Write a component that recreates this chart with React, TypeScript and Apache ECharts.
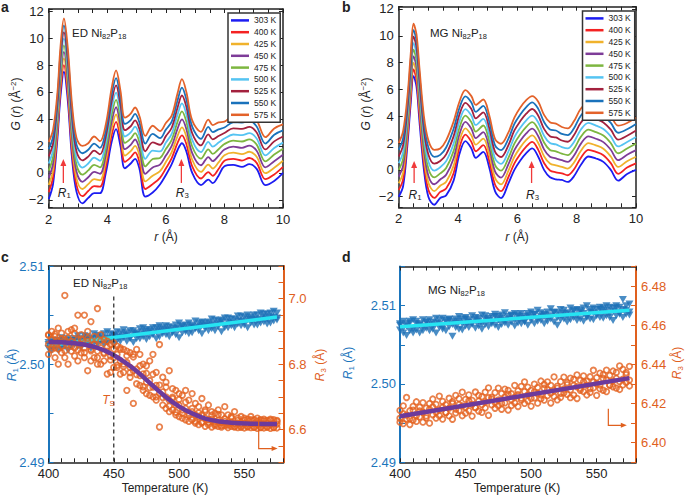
import React, { useEffect, useRef } from "react";
import * as echarts from "echarts";

const FONT = "'Liberation Sans', Arial, Helvetica, sans-serif";
const DARK = "#222222";
const AX_BLUE = "#1b75bc";
const AX_ORANGE = "#e0601e";

// ---------- panels a & b : G(r) curves ----------
const tempLabels = ["303 K", "400 K", "425 K", "450 K", "475 K", "500 K", "525 K", "550 K", "575 K"];
const curveColors = ["#1c1cf2", "#f42222", "#f0b22c", "#7e3c98", "#7db640", "#55c4f2", "#a3213e", "#1a72bb", "#e3622a"];

const rEd = [2.0, 2.15, 2.3, 2.4, 2.52, 2.65, 2.8, 2.95, 3.15, 3.35, 3.55, 3.75, 3.95, 4.15, 4.3, 4.45, 4.6, 4.8, 4.95, 5.1, 5.3, 5.55, 5.8, 6.0, 6.2, 6.4, 6.55, 6.7, 6.9, 7.2, 7.45, 7.6, 7.8, 8.0, 8.3, 8.6, 8.85, 9.1, 9.4, 9.7, 10.0];
const ed303 = [-1.95, -0.8, 2.6, 5.6, 7.5, 5.4, 1.0, -1.4, -2.25, -1.85, -1.5, -1.5, 0.0, 2.3, 3.25, 2.0, 0.35, 0.7, 1.05, 0.3, -1.75, -1.45, -0.85, -0.15, 0.65, 1.7, 2.2, 1.6, 0.0, -0.9, -0.5, -0.75, -0.2, 0.5, 0.6, 0.45, 0.65, 0.3, -0.9, -0.6, 0.0];
const ed400 = [-1.42, -0.3, 3.03, 6.06, 7.99, 5.89, 1.5, -0.9, -1.72, -1.34, -0.98, -1.02, 0.45, 2.8, 3.79, 2.51, 0.82, 1.16, 1.53, 0.79, -1.19, -0.83, -0.36, 0.33, 1.1, 2.23, 2.79, 2.15, 0.49, -0.41, 0.06, -0.21, 0.29, 0.91, 1.05, 0.92, 1.11, 0.75, -0.46, -0.11, 0.45];
const ed425 = [-0.89, 0.2, 3.45, 6.52, 8.48, 6.38, 2.0, -0.4, -1.19, -0.83, -0.45, -0.54, 0.9, 3.3, 4.33, 3.02, 1.29, 1.62, 2.0, 1.28, -0.63, -0.21, 0.13, 0.81, 1.55, 2.75, 3.38, 2.7, 0.98, 0.08, 0.62, 0.33, 0.78, 1.32, 1.5, 1.39, 1.57, 1.2, -0.02, 0.38, 0.9];
const ed450 = [-0.36, 0.7, 3.88, 6.98, 8.97, 6.87, 2.5, 0.1, -0.66, -0.32, 0.08, -0.06, 1.35, 3.8, 4.87, 3.53, 1.76, 2.08, 2.48, 1.77, -0.07, 0.41, 0.62, 1.29, 2.0, 3.28, 3.97, 3.25, 1.47, 0.57, 1.18, 0.87, 1.27, 1.73, 1.95, 1.86, 2.03, 1.65, 0.42, 0.87, 1.35];
const ed475 = [0.17, 1.2, 4.3, 7.44, 9.46, 7.36, 3.0, 0.6, -0.13, 0.19, 0.6, 0.42, 1.8, 4.3, 5.41, 4.04, 2.23, 2.54, 2.95, 2.26, 0.49, 1.03, 1.11, 1.77, 2.45, 3.8, 4.56, 3.8, 1.96, 1.06, 1.74, 1.41, 1.76, 2.14, 2.4, 2.33, 2.49, 2.1, 0.86, 1.36, 1.8];
const ed500 = [0.7, 1.7, 4.73, 7.9, 9.95, 7.85, 3.5, 1.1, 0.4, 0.7, 1.13, 0.9, 2.25, 4.8, 5.95, 4.55, 2.7, 3.0, 3.43, 2.75, 1.05, 1.65, 1.6, 2.25, 2.9, 4.33, 5.15, 4.35, 2.45, 1.55, 2.3, 1.95, 2.25, 2.55, 2.85, 2.8, 2.95, 2.55, 1.3, 1.85, 2.25];
const ed525 = [1.23, 2.2, 5.15, 8.36, 10.44, 8.34, 4.0, 1.6, 0.93, 1.21, 1.65, 1.38, 2.7, 5.3, 6.49, 5.06, 3.17, 3.46, 3.9, 3.24, 1.61, 2.27, 2.09, 2.73, 3.35, 4.85, 5.74, 4.9, 2.94, 2.04, 2.86, 2.49, 2.74, 2.96, 3.3, 3.27, 3.41, 3.0, 1.74, 2.34, 2.7];
const ed550 = [1.76, 2.7, 5.58, 8.82, 10.93, 8.83, 4.5, 2.1, 1.46, 1.72, 2.18, 1.86, 3.15, 5.8, 7.03, 5.57, 3.64, 3.92, 4.38, 3.73, 2.17, 2.89, 2.58, 3.21, 3.8, 5.38, 6.33, 5.45, 3.43, 2.53, 3.42, 3.03, 3.23, 3.37, 3.75, 3.74, 3.87, 3.45, 2.18, 2.83, 3.15];
const ed575 = [2.3, 3.2, 6.0, 9.3, 11.45, 9.3, 5.0, 2.6, 2.0, 2.2, 2.7, 2.35, 3.6, 6.3, 7.6, 6.1, 4.1, 4.4, 4.85, 4.2, 2.75, 3.5, 3.1, 3.7, 4.25, 5.9, 6.95, 6.0, 3.9, 3.05, 3.95, 3.55, 3.75, 3.8, 4.2, 4.2, 4.3, 3.9, 2.65, 3.3, 3.6];

const rMg = [2.0, 2.15, 2.3, 2.4, 2.5, 2.6, 2.7, 2.85, 3.0, 3.2, 3.4, 3.6, 3.85, 4.05, 4.25, 4.45, 4.6, 4.85, 5.05, 5.25, 5.45, 5.7, 5.9, 6.1, 6.3, 6.5, 6.7, 6.9, 7.1, 7.3, 7.5, 7.7, 7.9, 8.15, 8.4, 8.65, 8.9, 9.15, 9.4, 9.7, 10.0];
const mg303 = [-2.0, -1.2, 2.0, 4.8, 7.0, 6.2, 3.6, 0.0, -2.0, -2.6, -2.1, -1.9, -0.8, 1.2, 2.15, 1.6, 0.9, 1.35, 0.2, -1.6, -2.1, -1.0, 0.0, 0.7, 1.25, 1.6, 1.0, 0.0, -0.55, -0.7, -0.75, -0.9, -0.5, 0.4, 1.0, 0.85, 0.6, 0.0, -0.8, -0.3, 0.0];
const mg400 = [-1.5, -0.69, 2.45, 5.26, 7.49, 6.69, 4.1, 0.5, -1.48, -2.09, -1.64, -1.39, -0.25, 1.69, 2.63, 2.09, 1.39, 1.84, 0.69, -1.11, -1.59, -0.53, 0.49, 1.19, 1.74, 2.09, 1.51, 0.51, -0.04, -0.18, -0.26, -0.4, 0.01, 0.93, 1.5, 1.34, 1.09, 0.5, -0.29, 0.18, 0.49];
const mg425 = [-1.0, -0.18, 2.9, 5.72, 7.98, 7.18, 4.6, 1.0, -0.95, -1.58, -1.18, -0.88, 0.3, 2.18, 3.1, 2.58, 1.88, 2.33, 1.18, -0.62, -1.08, -0.05, 0.98, 1.68, 2.23, 2.58, 2.02, 1.02, 0.47, 0.34, 0.23, 0.1, 0.52, 1.45, 2.0, 1.83, 1.58, 1.0, 0.22, 0.65, 0.98];
const mg450 = [-0.5, 0.33, 3.35, 6.18, 8.47, 7.67, 5.1, 1.5, -0.43, -1.07, -0.72, -0.37, 0.85, 2.67, 3.58, 3.07, 2.37, 2.82, 1.67, -0.13, -0.57, 0.43, 1.47, 2.17, 2.72, 3.07, 2.53, 1.53, 0.98, 0.86, 0.72, 0.6, 1.03, 1.98, 2.5, 2.32, 2.07, 1.5, 0.73, 1.13, 1.47];
const mg475 = [0.0, 0.84, 3.8, 6.64, 8.96, 8.16, 5.6, 2.0, 0.1, -0.56, -0.26, 0.14, 1.4, 3.16, 4.05, 3.56, 2.86, 3.31, 2.16, 0.36, -0.06, 0.9, 1.96, 2.66, 3.21, 3.56, 3.04, 2.04, 1.49, 1.38, 1.21, 1.1, 1.54, 2.5, 3.0, 2.81, 2.56, 2.0, 1.24, 1.6, 1.96];
const mg500 = [0.5, 1.35, 4.25, 7.1, 9.45, 8.65, 6.1, 2.5, 0.63, -0.05, 0.2, 0.65, 1.95, 3.65, 4.53, 4.05, 3.35, 3.8, 2.65, 0.85, 0.45, 1.38, 2.45, 3.15, 3.7, 4.05, 3.55, 2.55, 2.0, 1.9, 1.7, 1.6, 2.05, 3.03, 3.5, 3.3, 3.05, 2.5, 1.75, 2.08, 2.45];
const mg525 = [1.0, 1.86, 4.7, 7.56, 9.94, 9.14, 6.6, 3.0, 1.15, 0.46, 0.66, 1.16, 2.5, 4.14, 5.0, 4.54, 3.84, 4.29, 3.14, 1.34, 0.96, 1.85, 2.94, 3.64, 4.19, 4.54, 4.06, 3.06, 2.51, 2.42, 2.19, 2.1, 2.56, 3.55, 4.0, 3.79, 3.54, 3.0, 2.26, 2.55, 2.94];
const mg550 = [1.5, 2.37, 5.15, 8.02, 10.43, 9.63, 7.1, 3.5, 1.68, 0.97, 1.12, 1.67, 3.05, 4.63, 5.48, 5.03, 4.33, 4.78, 3.63, 1.83, 1.47, 2.33, 3.43, 4.13, 4.68, 5.03, 4.57, 3.57, 3.02, 2.94, 2.68, 2.6, 3.07, 4.08, 4.5, 4.28, 4.03, 3.5, 2.77, 3.03, 3.43];
const mg575 = [2.0, 2.9, 5.6, 8.5, 10.9, 10.1, 7.6, 4.0, 2.2, 1.5, 1.6, 2.2, 3.6, 5.1, 5.95, 5.5, 4.85, 5.25, 4.1, 2.3, 1.95, 2.8, 3.9, 4.65, 5.2, 5.5, 5.1, 4.1, 3.55, 3.45, 3.2, 3.1, 3.6, 4.6, 5.0, 4.8, 4.5, 4.0, 3.3, 3.5, 3.9];

const edCurves = [ed303, ed400, ed425, ed450, ed475, ed500, ed525, ed550, ed575];
const mgCurves = [mg303, mg400, mg425, mg450, mg475, mg500, mg525, mg550, mg575];

const rTickLabels = [2, 4, 6, 8, 10];
const gTickLabels = [-2, 0, 2, 4, 6, 8, 10, 12];

// ---------- panels c & d : peak positions vs temperature ----------
const temps = [400, 402.5, 405, 407.5, 410, 412.5, 415, 417.5, 420, 422.5,
  425, 427.5, 430, 432.5, 435, 437.5, 440, 442.5, 445, 447.5,
  450, 452.5, 455, 457.5, 460, 462.5, 465, 467.5, 470, 472.5,
  475, 477.5, 480, 482.5, 485, 487.5, 490, 492.5, 495, 497.5,
  500, 502.5, 505, 507.5, 510, 512.5, 515, 517.5, 520, 522.5,
  525, 527.5, 530, 532.5, 535, 537.5, 540, 542.5, 545, 547.5,
  550, 552.5, 555, 557.5, 560, 562.5, 565, 567.5, 570, 572.5, 575];

const edR1Upper = [2.5022, 2.5024, 2.5022, 2.5024, 2.5027, 2.5024, 2.5026, 2.5024, 2.5026, 2.5029,
  2.5026, 2.5029, 2.5028, 2.5026, 2.5031, 2.5029, 2.5029, 2.5031, 2.5033, 2.5031,
  2.5030, 2.5033, 2.5032, 2.5035, 2.5032, 2.5034, 2.5034, 2.5032, 2.5036, 2.5037,
  2.5035, 2.5035, 2.5037, 2.5037, 2.5039, 2.5037, 2.5039, 2.5038, 2.5037, 2.5040,
  2.5042, 2.5039, 2.5040, 2.5042, 2.5040, 2.5044, 2.5042, 2.5043, 2.5042, 2.5043,
  2.5046, 2.5045, 2.5044, 2.5045, 2.5047, 2.5047, 2.5046, 2.5046, 2.5049, 2.5049,
  2.5048, 2.5050, 2.5048, 2.5050, 2.5050, 2.5052, 2.5051, 2.5051, 2.5052, 2.5054, 2.5052];
const edR1Mid = [2.5020, 2.5018, 2.5020, 2.5022, 2.5019, 2.5022, 2.5021, 2.5021, 2.5024, 2.5023,
  2.5022, 2.5025, 2.5024, 2.5022, 2.5026, 2.5027, 2.5025, 2.5026, 2.5027, 2.5026,
  2.5029, 2.5028, 2.5027, 2.5030, 2.5029, 2.5027, 2.5031, 2.5030, 2.5030, 2.5033,
  2.5031, 2.5033, 2.5031, 2.5033, 2.5035, 2.5033, 2.5035, 2.5034, 2.5033, 2.5036,
  2.5036, 2.5038, 2.5035, 2.5037, 2.5038, 2.5037, 2.5038, 2.5040, 2.5038, 2.5039,
  2.5041, 2.5039, 2.5041, 2.5043, 2.5040, 2.5043, 2.5042, 2.5041, 2.5044, 2.5044,
  2.5043, 2.5046, 2.5045, 2.5046, 2.5045, 2.5046, 2.5048, 2.5046, 2.5048, 2.5048, 2.5047];
const edR1Lower = [2.5016, 2.5014, 2.5018, 2.5014, 2.5017, 2.5018, 2.5014, 2.5018, 2.5020, 2.5018,
  2.5017, 2.5021, 2.5020, 2.5016, 2.5022, 2.5020, 2.5024, 2.5020, 2.5022, 2.5024,
  2.5020, 2.5024, 2.5023, 2.5027, 2.5023, 2.5026, 2.5022, 2.5026, 2.5026, 2.5028,
  2.5025, 2.5028, 2.5030, 2.5026, 2.5028, 2.5031, 2.5030, 2.5028, 2.5032, 2.5030,
  2.5027, 2.5032, 2.5033, 2.5031, 2.5032, 2.5036, 2.5034, 2.5031, 2.5036, 2.5034,
  2.5036, 2.5034, 2.5038, 2.5033, 2.5037, 2.5037, 2.5039, 2.5037, 2.5041, 2.5039,
  2.5040, 2.5037, 2.5042, 2.5040, 2.5040, 2.5042, 2.5043, 2.5041, 2.5042, 2.5044, 2.5045];
const edR3Upper = [6.89, 6.90, 6.885, 6.91, 6.895, 7.01, 6.90, 6.905, 6.91, 6.95,
  6.89, 6.95, 6.90, 6.93, 6.885, 6.97, 6.89, 6.875, 6.87, 6.86,
  6.865, 6.855, 6.85, 6.845, 6.84, 6.835, 6.83, 6.845, 6.83, 6.80,
  6.795, 6.81, 6.83, 6.775, 6.86, 6.76, 6.745, 6.78, 6.725, 6.72,
  6.71, 6.705, 6.72, 6.69, 6.71, 6.68, 6.67, 6.695, 6.66, 6.675,
  6.655, 6.65, 6.66, 6.645, 6.67, 6.645, 6.64, 6.655, 6.635, 6.64,
  6.635, 6.632, 6.64, 6.63, 6.635, 6.63, 6.632, 6.628, 6.632, 6.63, 6.628];
const edR3Middle = [6.86, 6.875, 6.85, 6.87, 6.855, 6.875, 6.86, 6.87, 6.85, 6.875,
  6.86, 6.85, 6.87, 6.845, 6.86, 6.84, 6.85, 6.835, 6.84, 6.825,
  6.82, 6.83, 6.81, 6.80, 6.805, 6.79, 6.78, 6.785, 6.765, 6.77,
  6.745, 6.75, 6.73, 6.735, 6.71, 6.715, 6.70, 6.69, 6.695, 6.675,
  6.675, 6.66, 6.665, 6.65, 6.655, 6.645, 6.64, 6.645, 6.635, 6.63,
  6.632, 6.625, 6.628, 6.622, 6.625, 6.62, 6.622, 6.618, 6.62, 6.617,
  6.62, 6.618, 6.617, 6.619, 6.616, 6.618, 6.617, 6.619, 6.616, 6.618, 6.617];
const edR3Scatter = [6.888, 6.853, 6.892, 6.847, 6.876, 6.841, 6.880, 6.855, 6.894, 6.843,
  6.877, 6.835, 6.879, 6.841, 6.863, 6.820, 6.871, 6.832, 6.853, 6.813,
  6.847, 6.796, 6.845, 6.793, 6.826, 6.774, 6.822, 6.768, 6.795, 6.731,
  6.772, 6.728, 6.769, 6.700, 6.736, 6.698, 6.730, 6.672, 6.699, 6.653,
  6.692, 6.650, 6.684, 6.644, 6.665, 6.625, 6.651, 6.623, 6.655, 6.622,
  6.644, 6.617, 6.646, 6.612, 6.633, 6.614, 6.636, 6.610, 6.628, 6.607,
  6.629, 6.610, 6.630, 6.608, 6.626, 6.606, 6.627, 6.609, 6.629, 6.607, 6.625];
const edR3Lower = [6.83, 6.845, 6.82, 6.80, 6.835, 6.82, 6.80, 6.84, 6.825, 6.81,
  6.835, 6.82, 6.78, 6.81, 6.82, 6.80, 6.80, 6.81, 6.77, 6.775,
  6.79, 6.79, 6.77, 6.775, 6.72, 6.76, 6.68, 6.74, 6.735, 6.72,
  6.71, 6.705, 6.70, 6.69, 6.608, 6.675, 6.665, 6.655, 6.66, 6.645,
  6.64, 6.635, 6.63, 6.625, 6.63, 6.62, 6.615, 6.62, 6.61, 6.615,
  6.608, 6.612, 6.61, 6.608, 6.612, 6.606, 6.61, 6.608, 6.606, 6.61,
  6.605, 6.608, 6.606, 6.607, 6.604, 6.607, 6.605, 6.607, 6.604, 6.606, 6.605];

const mgR1Upper = [2.5077, 2.5080, 2.5077, 2.5080, 2.5082, 2.5080, 2.5077, 2.5082, 2.5079, 2.5082,
  2.5079, 2.5084, 2.5082, 2.5084, 2.5081, 2.5083, 2.5080, 2.5083, 2.5086, 2.5083,
  2.5085, 2.5082, 2.5087, 2.5085, 2.5084, 2.5088, 2.5087, 2.5084, 2.5086, 2.5089,
  2.5086, 2.5088, 2.5091, 2.5086, 2.5088, 2.5090, 2.5088, 2.5090, 2.5086, 2.5090,
  2.5092, 2.5089, 2.5094, 2.5091, 2.5089, 2.5092, 2.5096, 2.5092, 2.5091, 2.5095,
  2.5094, 2.5091, 2.5097, 2.5094, 2.5095, 2.5094, 2.5097, 2.5100, 2.5095, 2.5097,
  2.5095, 2.5098, 2.5097, 2.5100, 2.5098, 2.5097, 2.5100, 2.5098, 2.5108, 2.5100, 2.5102];
const mgR1Mid = [2.5075, 2.5071, 2.5074, 2.5078, 2.5070, 2.5077, 2.5075, 2.5073, 2.5079, 2.5076,
  2.5074, 2.5078, 2.5077, 2.5073, 2.5079, 2.5082, 2.5076, 2.5078, 2.5080, 2.5077,
  2.5083, 2.5079, 2.5078, 2.5082, 2.5080, 2.5077, 2.5083, 2.5081, 2.5079, 2.5086,
  2.5082, 2.5084, 2.5081, 2.5083, 2.5087, 2.5082, 2.5086, 2.5084, 2.5080, 2.5087,
  2.5085, 2.5089, 2.5084, 2.5086, 2.5088, 2.5085, 2.5087, 2.5091, 2.5085, 2.5088,
  2.5090, 2.5086, 2.5089, 2.5093, 2.5087, 2.5092, 2.5090, 2.5086, 2.5092, 2.5091,
  2.5089, 2.5095, 2.5092, 2.5094, 2.5090, 2.5093, 2.5097, 2.5091, 2.5095, 2.5094, 2.5092];
const mgR1Lower = [2.5069, 2.5065, 2.5062, 2.5068, 2.5065, 2.5069, 2.5065, 2.5068, 2.5071, 2.5068,
  2.5070, 2.5065, 2.5072, 2.5070, 2.5068, 2.5073, 2.5061, 2.5072, 2.5070, 2.5069,
  2.5074, 2.5072, 2.5076, 2.5071, 2.5074, 2.5070, 2.5076, 2.5073, 2.5077, 2.5075,
  2.5072, 2.5076, 2.5078, 2.5075, 2.5079, 2.5074, 2.5078, 2.5077, 2.5079, 2.5075,
  2.5081, 2.5077, 2.5080, 2.5081, 2.5077, 2.5080, 2.5083, 2.5079, 2.5075, 2.5082,
  2.5083, 2.5079, 2.5082, 2.5085, 2.5081, 2.5083, 2.5080, 2.5085, 2.5083, 2.5082,
  2.5087, 2.5085, 2.5084, 2.5087, 2.5085, 2.5081, 2.5087, 2.5089, 2.5085, 2.5089, 2.5088];
const mgR3Upper = [6.4165, 6.4188, 6.4231, 6.4163, 6.4186, 6.4209, 6.4182, 6.4205, 6.4177, 6.4200,
  6.4223, 6.4196, 6.4238, 6.4211, 6.4194, 6.4227, 6.4210, 6.4242, 6.4225, 6.4258,
  6.4221, 6.4244, 6.4216, 6.4259, 6.4242, 6.4235, 6.4258, 6.4280, 6.4233, 6.4256,
  6.4279, 6.4251, 6.4274, 6.4267, 6.4250, 6.4293, 6.4265, 6.4288, 6.4311, 6.4284,
  6.4267, 6.4299, 6.4282, 6.4315, 6.4298, 6.4311, 6.4293, 6.4336, 6.4289, 6.4312,
  6.4335, 6.4307, 6.4330, 6.4323, 6.4346, 6.4318, 6.4341, 6.4314, 6.4337, 6.4370,
  6.4332, 6.4355, 6.4348, 6.4371, 6.4344, 6.4366, 6.4359, 6.4392, 6.4375, 6.4358, 6.4390];
const mgR3Mid = [6.4125, 6.4148, 6.4141, 6.4123, 6.4166, 6.4139, 6.4162, 6.4155, 6.4137, 6.4170,
  6.4183, 6.4156, 6.4168, 6.4181, 6.4154, 6.4177, 6.4200, 6.4172, 6.4195, 6.4188,
  6.4181, 6.4214, 6.4196, 6.4179, 6.4212, 6.4195, 6.4208, 6.4230, 6.4223, 6.4206,
  6.4219, 6.4201, 6.4234, 6.4247, 6.4220, 6.4233, 6.4245, 6.4228, 6.4261, 6.4244,
  6.4227, 6.4259, 6.4252, 6.4245, 6.4278, 6.4271, 6.4253, 6.4266, 6.4279, 6.4252,
  6.4275, 6.4297, 6.4270, 6.4293, 6.4286, 6.4278, 6.4311, 6.4294, 6.4277, 6.4310,
  6.4302, 6.4295, 6.4328, 6.4321, 6.4294, 6.4316, 6.4329, 6.4312, 6.4325, 6.4348, 6.4320];
const mgR3Lower = [6.4105, 6.4098, 6.4121, 6.4093, 6.4116, 6.4109, 6.4132, 6.4105, 6.4127, 6.4100,
  6.4143, 6.4126, 6.4138, 6.4121, 6.4154, 6.4137, 6.4120, 6.4152, 6.4165, 6.4138,
  6.4151, 6.4164, 6.4136, 6.4179, 6.4162, 6.4155, 6.4178, 6.4140, 6.4193, 6.4176,
  6.4189, 6.4171, 6.4204, 6.4167, 6.4190, 6.4203, 6.4185, 6.4218, 6.4201, 6.4214,
  6.4187, 6.4229, 6.4202, 6.4225, 6.4218, 6.4241, 6.4203, 6.4236, 6.4219, 6.4232,
  6.4255, 6.4247, 6.4230, 6.4243, 6.4226, 6.4268, 6.4261, 6.4244, 6.4257, 6.4280,
  6.4242, 6.4275, 6.4268, 6.4261, 6.4294, 6.4286, 6.4279, 6.4272, 6.4295, 6.4308, 6.4290];

const fitEnds = [400, 575];
const edR1Fit = [2.5019, 2.5048];
const mgR1Fit = [2.5073, 2.5094];
const mgR3Fit = [6.4135, 6.433];
const edR3FitT = [400, 420, 435, 445, 455, 465, 475, 485, 495, 505, 515, 525, 540, 555, 575];
const edR3Fit = [6.868, 6.864, 6.853, 6.838, 6.815, 6.787, 6.752, 6.716, 6.684, 6.659, 6.641, 6.629, 6.621, 6.618, 6.617];

const tempTickLabels = [400, 450, 500, 550];
const edR1TickLabels = [2.49, 2.5, 2.51];
const edR3TickLabels = [6.6, 6.8, 7.0];
const mgR1TickLabels = [2.49, 2.5, 2.51];
const mgR3TickLabels = [6.4, 6.42, 6.44, 6.46, 6.48];

// ---------- helpers ----------
const pairs = (xs: number[], ys: number[]) => xs.map((x, i) => [x, ys[i]]);
const lab = (list: number[], f: (v: number) => string) => (v: number) =>
  list.some((t) => Math.abs(t - v) < 1e-7) ? f(v) : "";
const fmtMinus = (v: number) => (v < 0 ? "\u2212" + Math.abs(v) : String(v));

const line = (color: string, width = 1.5) => ({ show: true, onZero: false, lineStyle: { color, width } });
const tickIn = (color: string, len = 4) => ({ show: true, inside: true, length: len, lineStyle: { color, width: 1 } });
const labelStyle = (color: string, formatter: any, margin = 5) => ({
  show: true, color, fontSize: 13, fontFamily: FONT, margin, formatter,
});

function xPair(grid: number, min: number, max: number, interval: number, formatter: any) {
  return [
    { gridIndex: grid, type: "value", position: "bottom", min, max, interval, axisLine: line(DARK), axisTick: tickIn(DARK), axisLabel: labelStyle(DARK, formatter, 5), splitLine: { show: false } },
    { gridIndex: grid, type: "value", position: "top", min, max, interval, axisLine: line(DARK), axisTick: tickIn(DARK), axisLabel: { show: false }, splitLine: { show: false } },
  ];
}

function buildOption() {
  const series: any[] = [];
  edCurves.forEach((ys, k) =>
    series.push({
      type: "line", name: tempLabels[k], xAxisIndex: 0, yAxisIndex: 0, data: pairs(rEd, ys),
      smooth: 0.35, showSymbol: false, symbol: "none", lineStyle: { width: 1.8, color: curveColors[k] },
      itemStyle: { color: curveColors[k] }, z: 2,
    })
  );
  mgCurves.forEach((ys, k) =>
    series.push({
      type: "line", name: tempLabels[k], xAxisIndex: 2, yAxisIndex: 2, data: pairs(rMg, ys),
      smooth: 0.35, showSymbol: false, symbol: "none", lineStyle: { width: 1.8, color: curveColors[k] },
      itemStyle: { color: curveColors[k] }, z: 2,
    })
  );
  const tri = (name: string, xi: number, yi: number, ys: number[]) => ({
    type: "scatter", name, xAxisIndex: xi, yAxisIndex: yi, data: pairs(temps, ys),
    symbol: "triangle", symbolRotate: 180, symbolSize: [8, 7], itemStyle: { color: "#1d70b7" }, z: 2,
  });
  const ring = (name: string, xi: number, yi: number, ys: number[]) => ({
    type: "scatter", name, xAxisIndex: xi, yAxisIndex: yi, data: pairs(temps, ys),
    symbol: "circle", symbolSize: 5.5,
    itemStyle: { color: "rgba(255,255,255,0)", borderColor: "#e3621f", borderWidth: 1.8 }, z: 4,
  });
  const fit = (name: string, xi: number, yi: number, xs: number[], ys: number[], color: string, width: number, z: number) => ({
    type: "line", name, xAxisIndex: xi, yAxisIndex: yi, data: pairs(xs, ys), smooth: true,
    showSymbol: false, symbol: "none", lineStyle: { color, width }, z,
  });
  series.push(tri("ED R1 a", 4, 4, edR1Upper));
  series.push(tri("ED R1 b", 4, 4, edR1Mid));
  series.push(tri("ED R1 c", 4, 4, edR1Lower));
  series.push(fit("ED R1 fit", 4, 4, fitEnds, edR1Fit, "#26e4f2", 3.5, 3));
  series.push(ring("ED R3 a", 4, 5, edR3Upper));
  series.push(ring("ED R3 b", 4, 5, edR3Middle));
  series.push(ring("ED R3 c", 4, 5, edR3Scatter));
  series.push(ring("ED R3 d", 4, 5, edR3Lower));
  series.push(fit("ED R3 fit", 4, 5, edR3FitT, edR3Fit, "#6c3a9c", 4.5, 5));

  series.push(tri("MG R1 a", 6, 6, mgR1Upper));
  series.push(tri("MG R1 b", 6, 6, mgR1Mid));
  series.push(tri("MG R1 c", 6, 6, mgR1Lower));
  series.push(fit("MG R1 fit", 6, 6, fitEnds, mgR1Fit, "#26e4f2", 3.5, 3));
  series.push(ring("MG R3 a", 6, 7, mgR3Upper));
  series.push(ring("MG R3 b", 6, 7, mgR3Mid));
  series.push(ring("MG R3 c", 6, 7, mgR3Lower));
  series.push(fit("MG R3 fit", 6, 7, fitEnds, mgR3Fit, "#6c3a9c", 4.5, 5));

  const legendBase = {
    orient: "vertical", selectedMode: false, data: tempLabels, icon: "rect",
    itemWidth: 18, itemHeight: 2.5, itemGap: 0, padding: [1.5, 4, 1.5, 3],
    backgroundColor: "#ffffff", borderColor: "#333333", borderWidth: 1.5,
    textStyle: { fontSize: 8.5, color: DARK, fontFamily: FONT, lineHeight: 11.8 },
    z: 10,
  };

  const rFmt = lab(rTickLabels, (v) => String(v));
  const gFmt = lab(gTickLabels, fmtMinus);
  const tFmt = lab(tempTickLabels, (v) => String(v));

  const yMirror = (grid: number, min: number, max: number, splitNumber: number) => ({
    gridIndex: grid, type: "value", position: "right", min, max, splitNumber,
    axisLine: line(DARK), axisTick: tickIn(DARK), axisLabel: { show: false }, splitLine: { show: false },
  });

  return {
    animation: false,
    backgroundColor: "#ffffff",
    textStyle: { fontFamily: FONT },
    grid: [
      { left: 48.7, top: 9, width: 234.3, height: 198.5, outerBoundsMode: "none", containLabel: false },
      { left: 398.7, top: 6.7, width: 237.3, height: 200.6, outerBoundsMode: "none", containLabel: false },
      { left: 48.5, top: 266, width: 235, height: 196.3, outerBoundsMode: "none", containLabel: false },
      { left: 400, top: 266.5, width: 236, height: 195.8, outerBoundsMode: "none", containLabel: false },
    ],
    legend: [
      { ...legendBase, left: 228, top: 13 },
      { ...legendBase, left: 582.5, top: 11 },
    ],
    xAxis: [
      ...xPair(0, 2, 10, 0.5, rFmt),
      ...xPair(1, 2, 10, 0.5, rFmt),
      ...xPair(2, 400, 580, 10, tFmt),
      ...xPair(3, 400, 580, 10, tFmt),
    ],
    yAxis: [
      { gridIndex: 0, type: "value", position: "left", min: -2.56, max: 12.15, splitNumber: 7, axisLine: line(DARK), axisTick: tickIn(DARK), axisLabel: labelStyle(DARK, gFmt, 5), splitLine: { show: false } },
      yMirror(0, -2.56, 12.15, 7),
      { gridIndex: 1, type: "value", position: "left", min: -2.79, max: 12.17, splitNumber: 7, axisLine: line(DARK), axisTick: tickIn(DARK), axisLabel: labelStyle(DARK, gFmt, 5), splitLine: { show: false } },
      yMirror(1, -2.79, 12.17, 7),
      { gridIndex: 2, type: "value", position: "left", min: 2.49, max: 2.51, interval: 0.005, axisLine: line(AX_BLUE, 2), axisTick: tickIn(AX_BLUE, 5), axisLabel: labelStyle(AX_BLUE, lab(edR1TickLabels, (v) => v.toFixed(2)), 4), splitLine: { show: false } },
      { gridIndex: 2, type: "value", position: "right", min: 6.5, max: 7.1, interval: 0.05, axisLine: line(AX_ORANGE, 2), axisTick: tickIn(AX_ORANGE, 5), axisLabel: labelStyle(AX_ORANGE, lab(edR3TickLabels, (v) => v.toFixed(1)), 5), splitLine: { show: false } },
      { gridIndex: 3, type: "value", position: "left", min: 2.49, max: 2.515, interval: 0.005, axisLine: line(AX_BLUE, 2), axisTick: tickIn(AX_BLUE, 5), axisLabel: labelStyle(AX_BLUE, lab(mgR1TickLabels, (v) => v.toFixed(2)), 4), splitLine: { show: false } },
      { gridIndex: 3, type: "value", position: "right", min: 6.39, max: 6.49, interval: 0.01, axisLine: line(AX_ORANGE, 2), axisTick: tickIn(AX_ORANGE, 5), axisLabel: labelStyle(AX_ORANGE, lab(mgR3TickLabels, (v) => v.toFixed(2)), 5), splitLine: { show: false } },
    ],
    series,
  };
}

// annotation anchors (data coordinates)
const edArrowR = [2.5, 6.53];
const mgArrowR = [2.52, 6.48];
const edArrowG = [-0.74, 1.04, -1.48];
const mgArrowG = [-0.98, 0.66, -1.87];

function buildGraphics(chart: any) {
  const X = (i: number, v: number) => chart.convertToPixel({ xAxisIndex: i }, v) as number;
  const Y = (i: number, v: number) => chart.convertToPixel({ yAxisIndex: i }, v) as number;
  const g: any[] = [];
  const rich = (fill: string, size = 12) => ({
    i: { fontStyle: "italic", fontSize: size, lineHeight: 14, fill, fontFamily: FONT },
    sub: { fontSize: size * 0.65, lineHeight: 7, verticalAlign: "bottom", fill, fontFamily: FONT },
    sup: { fontSize: size * 0.65, lineHeight: 7, verticalAlign: "top", fill, fontFamily: FONT },
  });
  const text = (x: number, y: number, t: string, o: any = {}) => {
    const fill = o.fill || DARK;
    const size = o.fontSize || 12;
    g.push({
      type: "text", x, y, rotation: o.rotation || 0, z: 100, silent: true,
      style: {
        text: t, fill, fontSize: size, fontFamily: FONT, fontWeight: o.fontWeight || "normal",
        align: o.align || "center", verticalAlign: o.verticalAlign || "middle", lineHeight: 14,
        rich: rich(fill, size),
      },
    });
  };
  const upArrow = (x: number, yBottom: number, yTop: number, color: string) => {
    g.push({ type: "line", z: 100, silent: true, shape: { x1: x, y1: yBottom, x2: x, y2: yTop + 6 }, style: { stroke: color, lineWidth: 1.3 } });
    g.push({ type: "polygon", z: 100, silent: true, shape: { points: [[x - 3, yTop + 7], [x + 3, yTop + 7], [x, yTop]] }, style: { fill: color } });
  };
  const elbowArrow = (x0: number, y0: number, y1: number, x1: number, color: string) => {
    g.push({ type: "polyline", z: 100, silent: true, shape: { points: [[x0, y0], [x0, y1], [x1 - 5, y1]] }, style: { stroke: color, lineWidth: 1.2, fill: "none" } });
    g.push({ type: "polygon", z: 100, silent: true, shape: { points: [[x1 - 6, y1 - 2.5], [x1 - 6, y1 + 2.5], [x1, y1]] }, style: { fill: color } });
  };

  // panel letters
  text(1, 0, "a", { fontWeight: "bold", fontSize: 14, align: "left", verticalAlign: "top" });
  text(342, 0, "b", { fontWeight: "bold", fontSize: 14, align: "left", verticalAlign: "top" });
  text(1, 250, "c", { fontWeight: "bold", fontSize: 14, align: "left", verticalAlign: "top" });
  text(342, 250, "d", { fontWeight: "bold", fontSize: 14, align: "left", verticalAlign: "top" });

  // sample labels
  text(72, 33, "ED Ni{sub|82}P{sub|18}", { align: "left", fontSize: 11.5 });
  text(430, 33, "MG Ni{sub|82}P{sub|18}", { align: "left", fontSize: 11.5 });
  text(73, 283, "ED Ni{sub|82}P{sub|18}", { align: "left", fontSize: 11.5 });
  text(428, 290, "MG Ni{sub|82}P{sub|18}", { align: "left", fontSize: 11.5 });

  // axis titles
  text(16, 104, "{i|G} ({i|r}) (Å{sup|\u22122})", { rotation: Math.PI / 2 });
  text(366, 104, "{i|G} ({i|r}) (Å{sup|\u22122})", { rotation: Math.PI / 2 });
  text(166, 237, "{i|r} (Å)");
  text(517, 237, "{i|r} (Å)");
  text(165, 488, "Temperature (K)");
  text(517, 488, "Temperature (K)");
  text(12, 365, "{i|R}{sub|1} (Å)", { rotation: Math.PI / 2, fill: AX_BLUE });
  text(320, 365, "{i|R}{sub|3} (Å)", { rotation: Math.PI / 2, fill: AX_ORANGE });
  text(348, 363, "{i|R}{sub|1} (Å)", { rotation: Math.PI / 2, fill: AX_BLUE });
  text(677, 363, "{i|R}{sub|3} (Å)", { rotation: Math.PI / 2, fill: AX_ORANGE });

  // R1 / R3 arrows
  const red = "#f03a3a";
  edArrowR.forEach((r, k) => {
    const x = X(0, r);
    upArrow(x, Y(0, edArrowG[0]), Y(0, edArrowG[1]), red);
    text(x + 1, Y(0, edArrowG[2]), k === 0 ? "{i|R}{sub|1}" : "{i|R}{sub|3}");
  });
  mgArrowR.forEach((r, k) => {
    const x = X(2, r);
    upArrow(x, Y(2, mgArrowG[0]), Y(2, mgArrowG[1]), red);
    text(x + 1, Y(2, mgArrowG[2]), k === 0 ? "{i|R}{sub|1}" : "{i|R}{sub|3}");
  });

  // Ts dashed line in panel c
  const xTs = X(4, 450);
  g.push({ type: "line", z: 90, silent: true, shape: { x1: xTs, y1: Y(4, 2.5069), x2: xTs, y2: Y(4, 2.49) }, style: { stroke: DARK, lineWidth: 1.2, lineDash: [4, 3] } });
  text(X(4, 446), Y(4, 2.4963), "{i|T}{sub|S}", { fill: AX_ORANGE });

  // right-axis indicator arrows
  elbowArrow(X(4, 561), Y(5, 6.639), Y(5, 6.542), X(4, 575.5), AX_ORANGE);
  elbowArrow(X(6, 558.9), Y(7, 6.4174), Y(7, 6.4089), X(6, 573), AX_ORANGE);

  return g;
}

export default function App() {
  const ref = useRef<HTMLDivElement>(null);
  useEffect(() => {
    if (!ref.current) return;
    const chart = echarts.init(ref.current, null, { renderer: "svg" });
    chart.setOption(buildOption() as any);
    chart.setOption({ graphic: buildGraphics(chart) } as any);
    return () => chart.dispose();
  }, []);
  return (
    <div
      ref={ref}
      style={{ position: "absolute", left: 0, top: 0, width: 685, height: 495, background: "#ffffff" }}
    />
  );
}
